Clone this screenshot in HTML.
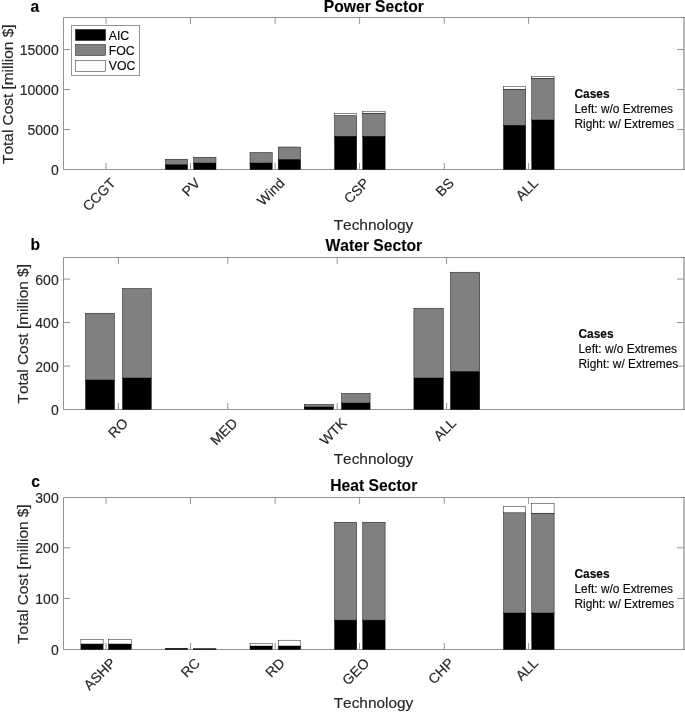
<!DOCTYPE html>
<html><head><meta charset="utf-8"><title>Total Cost by Technology</title>
<style>
html,body{margin:0;padding:0;background:#fff;}
svg{display:block;will-change:transform;}
text{font-family:"Liberation Sans",sans-serif;fill:#262626;font-kerning:none;stroke:#262626;stroke-width:0.15px;}
.tk{font-size:14px;}
.lb{font-size:15.4px;}
.yl{font-size:15.4px;}
.ti{font-size:15.65px;font-weight:bold;fill:#000;}
.lt{font-size:15.6px;font-weight:bold;fill:#000;}
.lg{font-size:12.3px;fill:#000;}
.cs{font-size:11.9px;fill:#000;}
</style></head>
<body>
<svg width="685" height="712" viewBox="0 0 685 712">
<rect width="685" height="712" fill="#fff"/>
<path d="M685 17.5H63.5V169.5H685" fill="none" stroke="#929292" stroke-width="1"/>
<path d="M684 17.0V170.0" fill="none" stroke="#707070" stroke-width="1"/>
<path d="M63.5 169.5h6.5M683.5 169.5h-6.5" stroke="#929292" stroke-width="1" fill="none"/>
<text x="58.7" y="175.0" text-anchor="end" class="tk">0</text>
<path d="M63.5 129.5h6.5M683.5 129.5h-6.5" stroke="#929292" stroke-width="1" fill="none"/>
<text x="58.7" y="135.0" text-anchor="end" class="tk">5000</text>
<path d="M63.5 89.5h6.5M683.5 89.5h-6.5" stroke="#929292" stroke-width="1" fill="none"/>
<text x="58.7" y="95.0" text-anchor="end" class="tk">10000</text>
<path d="M63.5 49.5h6.5M683.5 49.5h-6.5" stroke="#929292" stroke-width="1" fill="none"/>
<text x="58.7" y="55.0" text-anchor="end" class="tk">15000</text>
<path d="M106 169.5v-6.5M106 17.5v6.5" stroke="#929292" stroke-width="1" fill="none"/>
<text transform="translate(116.5,184.0) rotate(-45)" text-anchor="end" class="tk">CCGT</text>
<path d="M190.5 169.5v-6.5M190.5 17.5v6.5" stroke="#929292" stroke-width="1" fill="none"/>
<text transform="translate(201.0,184.0) rotate(-45)" text-anchor="end" class="tk">PV</text>
<path d="M275.1 169.5v-6.5M275.1 17.5v6.5" stroke="#929292" stroke-width="1" fill="none"/>
<text transform="translate(285.6,184.0) rotate(-45)" text-anchor="end" class="tk">Wind</text>
<path d="M359.6 169.5v-6.5M359.6 17.5v6.5" stroke="#929292" stroke-width="1" fill="none"/>
<text transform="translate(370.1,184.0) rotate(-45)" text-anchor="end" class="tk">CSP</text>
<path d="M444.3 169.5v-6.5M444.3 17.5v6.5" stroke="#929292" stroke-width="1" fill="none"/>
<text transform="translate(454.8,184.0) rotate(-45)" text-anchor="end" class="tk">BS</text>
<path d="M528.6 169.5v-6.5M528.6 17.5v6.5" stroke="#929292" stroke-width="1" fill="none"/>
<text transform="translate(539.1,184.0) rotate(-45)" text-anchor="end" class="tk">ALL</text>
<rect x="165.4" y="164.6" width="22.20" height="4.90" fill="#000" stroke="#000" stroke-width="0.45"/>
<rect x="165.4" y="159.2" width="22.20" height="5.40" fill="#808080" stroke="#000" stroke-width="0.45"/>
<rect x="193.6" y="163" width="22.40" height="6.50" fill="#000" stroke="#000" stroke-width="0.45"/>
<rect x="193.6" y="157.2" width="22.40" height="5.80" fill="#808080" stroke="#000" stroke-width="0.45"/>
<rect x="250.00000000000003" y="163" width="22.20" height="6.50" fill="#000" stroke="#000" stroke-width="0.45"/>
<rect x="250.00000000000003" y="152.5" width="22.20" height="10.50" fill="#808080" stroke="#000" stroke-width="0.45"/>
<rect x="278.20000000000005" y="159.4" width="22.40" height="10.10" fill="#000" stroke="#000" stroke-width="0.45"/>
<rect x="278.20000000000005" y="147" width="22.40" height="12.40" fill="#808080" stroke="#000" stroke-width="0.45"/>
<rect x="334.5" y="136.2" width="22.20" height="33.30" fill="#000" stroke="#000" stroke-width="0.45"/>
<rect x="334.5" y="115.6" width="22.20" height="20.60" fill="#808080" stroke="#000" stroke-width="0.45"/>
<rect x="334.5" y="113.4" width="22.20" height="2.20" fill="#fff" stroke="#000" stroke-width="0.45"/>
<rect x="362.70000000000005" y="136.2" width="22.40" height="33.30" fill="#000" stroke="#000" stroke-width="0.45"/>
<rect x="362.70000000000005" y="113.2" width="22.40" height="23.00" fill="#808080" stroke="#000" stroke-width="0.45"/>
<rect x="362.70000000000005" y="111.2" width="22.40" height="2.00" fill="#fff" stroke="#000" stroke-width="0.45"/>
<rect x="503.5" y="125.2" width="22.20" height="44.30" fill="#000" stroke="#000" stroke-width="0.45"/>
<rect x="503.5" y="89.2" width="22.20" height="36.00" fill="#808080" stroke="#000" stroke-width="0.45"/>
<rect x="503.5" y="86.5" width="22.20" height="2.70" fill="#fff" stroke="#000" stroke-width="0.45"/>
<rect x="531.7" y="120" width="22.40" height="49.50" fill="#000" stroke="#000" stroke-width="0.45"/>
<rect x="531.7" y="78.2" width="22.40" height="41.80" fill="#808080" stroke="#000" stroke-width="0.45"/>
<rect x="531.7" y="76.5" width="22.40" height="1.70" fill="#fff" stroke="#000" stroke-width="0.45"/>
<text x="30.6" y="12.2" class="lt">a</text>
<text x="373.8" y="11.6" text-anchor="middle" class="ti">Power Sector</text>
<text x="373.5" y="230.1" text-anchor="middle" class="lb">Technology</text>
<text transform="translate(12.5,94.2) rotate(-90)" text-anchor="middle" class="yl">Total Cost [million $]</text>
<text x="574.5" y="97.6" class="cs" font-weight="bold">Cases</text>
<text x="574.5" y="112.6" class="cs">Left: w/o Extremes</text>
<text x="574.5" y="127.6" class="cs">Right: w/ Extremes</text>
<rect x="71.5" y="25.5" width="68" height="50" fill="#fff" stroke="#929292" stroke-width="1"/>
<rect x="75.5" y="29.5" width="30" height="11" fill="#000" stroke="#000" stroke-width="0.45"/>
<rect x="75.5" y="44.5" width="30" height="11" fill="#808080" stroke="#000" stroke-width="0.45"/>
<rect x="75.5" y="60.3" width="30" height="11" fill="#fff" stroke="#000" stroke-width="0.45"/>
<text x="108.7" y="39.6" class="lg">AIC</text>
<text x="108.7" y="54.8" class="lg">FOC</text>
<text x="108.7" y="70.1" class="lg">VOC</text>
<path d="M685 257.5H63.5V409.5H685" fill="none" stroke="#929292" stroke-width="1"/>
<path d="M684 257.0V410.0" fill="none" stroke="#707070" stroke-width="1"/>
<path d="M63.5 409.5h6.5M683.5 409.5h-6.5" stroke="#929292" stroke-width="1" fill="none"/>
<text x="58.7" y="415.0" text-anchor="end" class="tk">0</text>
<path d="M63.5 366.1h6.5M683.5 366.1h-6.5" stroke="#929292" stroke-width="1" fill="none"/>
<text x="58.7" y="371.6" text-anchor="end" class="tk">200</text>
<path d="M63.5 322.6h6.5M683.5 322.6h-6.5" stroke="#929292" stroke-width="1" fill="none"/>
<text x="58.7" y="328.1" text-anchor="end" class="tk">400</text>
<path d="M63.5 279.1h6.5M683.5 279.1h-6.5" stroke="#929292" stroke-width="1" fill="none"/>
<text x="58.7" y="284.6" text-anchor="end" class="tk">600</text>
<path d="M118.4 409.5v-6.5M118.4 257.5v6.5" stroke="#929292" stroke-width="1" fill="none"/>
<text transform="translate(128.9,424.0) rotate(-45)" text-anchor="end" class="tk">RO</text>
<path d="M227.8 409.5v-6.5M227.8 257.5v6.5" stroke="#929292" stroke-width="1" fill="none"/>
<text transform="translate(238.3,424.0) rotate(-45)" text-anchor="end" class="tk">MED</text>
<path d="M337.2 409.5v-6.5M337.2 257.5v6.5" stroke="#929292" stroke-width="1" fill="none"/>
<text transform="translate(347.7,424.0) rotate(-45)" text-anchor="end" class="tk">WTK</text>
<path d="M446.6 409.5v-6.5M446.6 257.5v6.5" stroke="#929292" stroke-width="1" fill="none"/>
<text transform="translate(457.1,424.0) rotate(-45)" text-anchor="end" class="tk">ALL</text>
<rect x="85.5" y="380" width="29.00" height="29.50" fill="#000" stroke="#000" stroke-width="0.45"/>
<rect x="85.5" y="313.2" width="29.00" height="66.80" fill="#808080" stroke="#000" stroke-width="0.45"/>
<rect x="122.5" y="378" width="28.80" height="31.50" fill="#000" stroke="#000" stroke-width="0.45"/>
<rect x="122.5" y="288.5" width="28.80" height="89.50" fill="#808080" stroke="#000" stroke-width="0.45"/>
<rect x="304.3" y="407" width="29.20" height="2.50" fill="#000" stroke="#000" stroke-width="0.45"/>
<rect x="304.3" y="404.4" width="29.20" height="2.60" fill="#808080" stroke="#000" stroke-width="0.45"/>
<rect x="341.5" y="403" width="28.60" height="6.50" fill="#000" stroke="#000" stroke-width="0.45"/>
<rect x="341.5" y="393.4" width="28.60" height="9.60" fill="#808080" stroke="#000" stroke-width="0.45"/>
<rect x="413.9" y="378" width="29.40" height="31.50" fill="#000" stroke="#000" stroke-width="0.45"/>
<rect x="413.9" y="308.6" width="29.40" height="69.40" fill="#808080" stroke="#000" stroke-width="0.45"/>
<rect x="413.9" y="308.2" width="29.40" height="0.40" fill="#fff" stroke="#000" stroke-width="0.45"/>
<rect x="450.5" y="371.4" width="29.20" height="38.10" fill="#000" stroke="#000" stroke-width="0.45"/>
<rect x="450.5" y="272.6" width="29.20" height="98.80" fill="#808080" stroke="#000" stroke-width="0.45"/>
<rect x="450.5" y="272.2" width="29.20" height="0.40" fill="#fff" stroke="#000" stroke-width="0.45"/>
<text x="30.6" y="249.9" class="lt">b</text>
<text x="373.8" y="251" text-anchor="middle" class="ti">Water Sector</text>
<text x="373.5" y="464" text-anchor="middle" class="lb">Technology</text>
<text transform="translate(27.5,333.8) rotate(-90)" text-anchor="middle" class="yl">Total Cost [million $]</text>
<text x="578.5" y="337.9" class="cs" font-weight="bold">Cases</text>
<text x="578.5" y="352.9" class="cs">Left: w/o Extremes</text>
<text x="578.5" y="367.9" class="cs">Right: w/ Extremes</text>
<path d="M685 497.5H63.5V649.5H685" fill="none" stroke="#929292" stroke-width="1"/>
<path d="M684 497.0V650.0" fill="none" stroke="#707070" stroke-width="1"/>
<path d="M63.5 649.5h6.5M683.5 649.5h-6.5" stroke="#929292" stroke-width="1" fill="none"/>
<text x="58.7" y="655.0" text-anchor="end" class="tk">0</text>
<path d="M63.5 598.5h6.5M683.5 598.5h-6.5" stroke="#929292" stroke-width="1" fill="none"/>
<text x="58.7" y="604.0" text-anchor="end" class="tk">100</text>
<path d="M63.5 547.8h6.5M683.5 547.8h-6.5" stroke="#929292" stroke-width="1" fill="none"/>
<text x="58.7" y="553.3" text-anchor="end" class="tk">200</text>
<path d="M63.5 497.5h6.5M683.5 497.5h-6.5" stroke="#929292" stroke-width="1" fill="none"/>
<text x="58.7" y="503.0" text-anchor="end" class="tk">300</text>
<path d="M106 649.5v-6.5M106 497.5v6.5" stroke="#929292" stroke-width="1" fill="none"/>
<text transform="translate(116.5,664.0) rotate(-45)" text-anchor="end" class="tk">ASHP</text>
<path d="M190.5 649.5v-6.5M190.5 497.5v6.5" stroke="#929292" stroke-width="1" fill="none"/>
<text transform="translate(201.0,664.0) rotate(-45)" text-anchor="end" class="tk">RC</text>
<path d="M275.1 649.5v-6.5M275.1 497.5v6.5" stroke="#929292" stroke-width="1" fill="none"/>
<text transform="translate(285.6,664.0) rotate(-45)" text-anchor="end" class="tk">RD</text>
<path d="M359.6 649.5v-6.5M359.6 497.5v6.5" stroke="#929292" stroke-width="1" fill="none"/>
<text transform="translate(370.1,664.0) rotate(-45)" text-anchor="end" class="tk">GEO</text>
<path d="M444.3 649.5v-6.5M444.3 497.5v6.5" stroke="#929292" stroke-width="1" fill="none"/>
<text transform="translate(454.8,664.0) rotate(-45)" text-anchor="end" class="tk">CHP</text>
<path d="M528.6 649.5v-6.5M528.6 497.5v6.5" stroke="#929292" stroke-width="1" fill="none"/>
<text transform="translate(539.1,664.0) rotate(-45)" text-anchor="end" class="tk">ALL</text>
<rect x="80.9" y="644" width="22.20" height="5.50" fill="#000" stroke="#000" stroke-width="0.45"/>
<rect x="80.9" y="644" width="22.20" height="0.00" fill="#808080" stroke="#000" stroke-width="0.45"/>
<rect x="80.9" y="639.4" width="22.20" height="4.60" fill="#fff" stroke="#000" stroke-width="0.45"/>
<rect x="108.5" y="644" width="22.80" height="5.50" fill="#000" stroke="#000" stroke-width="0.45"/>
<rect x="108.5" y="644" width="22.80" height="0.00" fill="#808080" stroke="#000" stroke-width="0.45"/>
<rect x="108.5" y="639.4" width="22.80" height="4.60" fill="#fff" stroke="#000" stroke-width="0.45"/>
<rect x="165.4" y="648.3" width="22.20" height="1.20" fill="#000" stroke="#000" stroke-width="0.45"/>
<rect x="193.6" y="648.6" width="22.40" height="0.90" fill="#000" stroke="#000" stroke-width="0.45"/>
<rect x="250.00000000000003" y="646" width="22.20" height="3.50" fill="#000" stroke="#000" stroke-width="0.45"/>
<rect x="250.00000000000003" y="646" width="22.20" height="0.00" fill="#808080" stroke="#000" stroke-width="0.45"/>
<rect x="250.00000000000003" y="643.4" width="22.20" height="2.60" fill="#fff" stroke="#000" stroke-width="0.45"/>
<rect x="278.20000000000005" y="646" width="22.40" height="3.50" fill="#000" stroke="#000" stroke-width="0.45"/>
<rect x="278.20000000000005" y="646" width="22.40" height="0.00" fill="#808080" stroke="#000" stroke-width="0.45"/>
<rect x="278.20000000000005" y="640.2" width="22.40" height="5.80" fill="#fff" stroke="#000" stroke-width="0.45"/>
<rect x="334.5" y="620.1" width="22.20" height="29.40" fill="#000" stroke="#000" stroke-width="0.45"/>
<rect x="334.5" y="522.2" width="22.20" height="97.90" fill="#808080" stroke="#000" stroke-width="0.45"/>
<rect x="362.70000000000005" y="620.1" width="22.40" height="29.40" fill="#000" stroke="#000" stroke-width="0.45"/>
<rect x="362.70000000000005" y="522.2" width="22.40" height="97.90" fill="#808080" stroke="#000" stroke-width="0.45"/>
<rect x="503.5" y="613" width="22.20" height="36.50" fill="#000" stroke="#000" stroke-width="0.45"/>
<rect x="503.5" y="512.8" width="22.20" height="100.20" fill="#808080" stroke="#000" stroke-width="0.45"/>
<rect x="503.5" y="506.4" width="22.20" height="6.40" fill="#fff" stroke="#000" stroke-width="0.45"/>
<rect x="531.7" y="613" width="22.40" height="36.50" fill="#000" stroke="#000" stroke-width="0.45"/>
<rect x="531.7" y="513.2" width="22.40" height="99.80" fill="#808080" stroke="#000" stroke-width="0.45"/>
<rect x="531.7" y="503.4" width="22.40" height="9.80" fill="#fff" stroke="#000" stroke-width="0.45"/>
<text x="31.2" y="486.9" class="lt">c</text>
<text x="373.8" y="490.8" text-anchor="middle" class="ti">Heat Sector</text>
<text x="373.5" y="708" text-anchor="middle" class="lb">Technology</text>
<text transform="translate(27.5,574.1) rotate(-90)" text-anchor="middle" class="yl">Total Cost [million $]</text>
<text x="574.5" y="577.7" class="cs" font-weight="bold">Cases</text>
<text x="574.5" y="592.7" class="cs">Left: w/o Extremes</text>
<text x="574.5" y="607.7" class="cs">Right: w/ Extremes</text>
</svg>
</body></html>
